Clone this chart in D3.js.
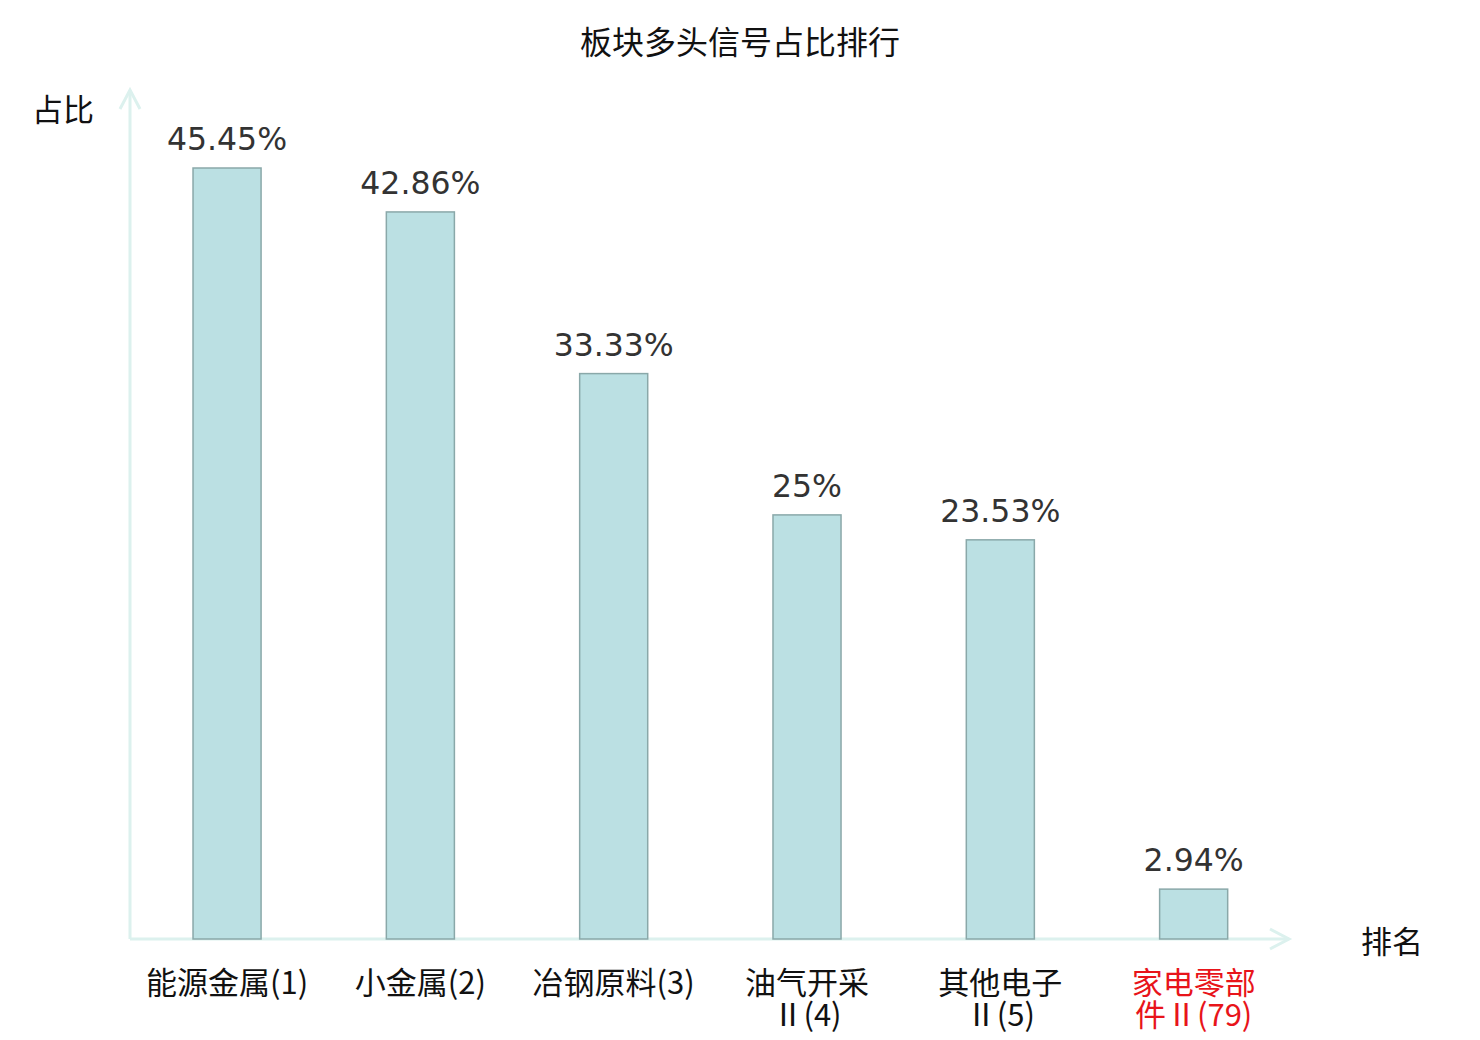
<!DOCTYPE html>
<html>
<head>
<meta charset="utf-8">
<script src="https://cdn.jsdelivr.net/npm/d3@7"></script>
<style>
  body { margin: 0; background: #fff; }
  svg text { font-family: "Noto Sans CJK SC", "DejaVu Sans", sans-serif; }
</style>
</head>
<body>
<div id="chart"></div>
<script>
// data
let categories = ['能源金属(1)', '小金属(2)', '冶钢原料(3)', '油气开采Ⅱ(4)', '其他电子Ⅱ(5)', '家电零部件Ⅱ(79)'];
let labelLines = [['能源金属(1)'], ['小金属(2)'], ['冶钢原料(3)'], ['油气开采', 'Ⅱ(4)'], ['其他电子', 'Ⅱ(5)'], ['家电零部', '件Ⅱ(79)']];
let values = [45.45, 42.86, 33.33, 25, 23.53, 2.94];
let valueLabels = ['45.45%', '42.86%', '33.33%', '25%', '23.53%', '2.94%'];
let highlight = [false, false, false, false, false, true];

let w = 1480, h = 1040;
let origin = {x: 130, y: 939};

let svg = d3.select('#chart').append('svg')
  .attr('width', w)
  .attr('height', h);

let xScale = d3.scaleBand()
  .domain(categories)
  .range([130, 1290.7])
  .paddingInner(0.648)
  .paddingOuter(0.326);

let yScale = d3.scaleLinear()
  .domain([0, 45.45])
  .range([origin.y, 168]);

// title
svg.append('text')
  .text('板块多头信号占比排行')
  .attr('x', 740)
  .attr('y', 54)
  .attr('text-anchor', 'middle')
  .style('font-size', '32px')
  .style('fill', '#111');

// axes with arrows
let axisColor = '#dcf1ee';
svg.append('line')
  .attr('x1', origin.x).attr('y1', origin.y)
  .attr('x2', origin.x).attr('y2', 90)
  .style('stroke', axisColor).style('stroke-width', 3);
svg.append('path')
  .attr('d', 'M' + (origin.x - 10) + ',' + 109 + 'L' + origin.x + ',' + 90 + 'L' + (origin.x + 10) + ',' + 109)
  .style('fill', 'none').style('stroke', axisColor).style('stroke-width', 3);

svg.append('line')
  .attr('x1', origin.x).attr('y1', origin.y)
  .attr('x2', 1289).attr('y2', origin.y)
  .style('stroke', axisColor).style('stroke-width', 3);
svg.append('path')
  .attr('d', 'M' + 1270 + ',' + (origin.y - 10) + 'L' + 1289 + ',' + origin.y + 'L' + 1270 + ',' + (origin.y + 10))
  .style('fill', 'none').style('stroke', axisColor).style('stroke-width', 3);

svg.append('text')
  .text('占比')
  .attr('x', 32).attr('y', 121)
  .style('font-size', '31px').style('fill', '#111');
svg.append('text')
  .text('排名')
  .attr('x', 1361).attr('y', 953)
  .style('font-size', '31px').style('fill', '#111');

// bars
svg.selectAll('rect.bar')
  .data(values)
  .enter()
  .append('rect')
  .attr('class', 'bar')
  .attr('x', (d, i) => xScale(categories[i]))
  .attr('y', d => yScale(d))
  .attr('width', xScale.bandwidth())
  .attr('height', d => origin.y - yScale(d))
  .style('fill', '#bbe0e3')
  .style('stroke', '#8aa8a9')
  .style('stroke-width', 1.5);

// value labels
svg.selectAll('text.value')
  .data(values)
  .enter()
  .append('text')
  .attr('class', 'value')
  .text((d, i) => valueLabels[i])
  .attr('x', (d, i) => xScale(categories[i]) + xScale.bandwidth() / 2)
  .attr('y', d => yScale(d) - 18)
  .attr('text-anchor', 'middle')
  .style('font-family', '"DejaVu Sans", sans-serif')
  .style('font-size', '31.5px')
  .style('fill', '#333');

// category labels, one text per line
labelLines.forEach(function (lines, i) {
  lines.forEach(function (line, j) {
    svg.append('text')
      .attr('class', 'cat')
      .text(line)
      .attr('x', xScale(categories[i]) + xScale.bandwidth() / 2)
      .attr('y', 994 + j * 32)
      .attr('text-anchor', 'middle')
      .style('font-size', '31px')
      .style('fill', highlight[i] ? '#e8141a' : '#111');
  });
});
</script>
</body>
</html>
